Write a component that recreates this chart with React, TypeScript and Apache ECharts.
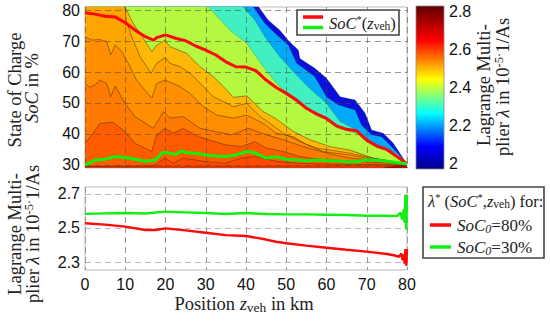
import React, { useEffect, useRef } from "react";
import * as echarts from "echarts";

type P = [number, number][];

const contourDarkBlue: P = [[0, 90], [42.8, 90], [43.1, 81.1], [45.5, 76.8], [48.4, 73.5], [50.8, 69.8], [53, 67.1], [53.4, 64.4], [57.1, 61.2], [60, 58], [63.4, 52], [67.1, 51], [69.6, 46.7], [71.2, 41.3], [74.1, 40.2], [76.6, 37], [78.5, 33.2], [80, 30.3]];
const contourBlue: P = [[0, 90], [41.5, 90], [41.8, 81.1], [44.7, 75.7], [47.2, 72.5], [50.5, 68.7], [52.6, 62.8], [57.1, 58.5], [60, 52], [62.9, 49.4], [67.1, 47.7], [68.7, 42.9], [71.2, 39.7], [73.7, 39.1], [76.2, 35.9], [78.5, 32.7], [80, 30.3]];
const contourTeal: P = [[0, 90], [39, 90], [39.3, 81.1], [42.2, 76.8], [44.7, 71.4], [48.4, 64.9], [51.8, 60.1], [55.5, 55.1], [60, 49.9], [63.4, 44], [66.7, 41.8], [69.6, 38.1], [73.3, 36.1], [77.4, 33.8], [80, 30.3]];
const contourLime: P = [[0, 90], [30.3, 90], [30.6, 81.1], [36, 73.5], [40.2, 69.2], [44.3, 61.7], [47.2, 56.9], [49.7, 53.7], [52.2, 50.6], [55.1, 48], [57.6, 45.9], [60, 44.5], [62.5, 42], [65, 41], [67.5, 40.2], [70, 37.5], [72.5, 35.6], [75, 34.6], [77.5, 32.3], [80, 30.3]];
const contourYellow: P = [[0, 90], [9.7, 90], [9.9, 81.1], [12, 75.7], [15.3, 69.2], [16.6, 66.6], [17.8, 68.7], [19.9, 70.3], [21.1, 68.2], [25.3, 66], [28.6, 61.7], [31.9, 58.5], [35.2, 54.2], [36.9, 51.8], [40.2, 52.3], [44.3, 47.2], [47.2, 45.1], [51.8, 40.8], [55.9, 38.1], [60.9, 35.9], [65.8, 34.8], [71.6, 32.2], [80, 30.3]];
const contourAmber: P = [[0, 90], [9.5, 90], [10.2, 76.8], [11.6, 71.4], [13.7, 64.9], [16.4, 59.6], [17.8, 62.8], [19.9, 64.7], [21.1, 62.8], [23.6, 61.7], [26.1, 59.6], [29.4, 55.3], [31.9, 52], [35.2, 49.9], [36.9, 48.8], [40.2, 49.9], [43.5, 45.6], [46, 43.4], [49.3, 40.2], [53.4, 37.5], [57.6, 35.4], [65.8, 33.8], [71.6, 32.2], [80, 30.3]];
const contourOrange: P = [[0, 71.4], [1.7, 70.3], [3.6, 70.5], [5.4, 69.8], [6.4, 65.5], [7.5, 68.7], [9.1, 66.6], [10.8, 62.8], [12.8, 57.4], [16.6, 51.5], [17.8, 56.3], [19.9, 57.4], [23.6, 55.3], [26.1, 53.1], [29.4, 48.8], [32.7, 46.1], [36.9, 45.1], [40.2, 46.1], [44.3, 43.4], [47.6, 40.2], [51.8, 39.1], [55.1, 36.5], [59.2, 34.3], [65.8, 33.2], [72.5, 31.6], [80, 30.3]];
const contourDeepOrange: P = [[0, 56.3], [1.2, 55.1], [2.5, 55.8], [3.7, 57.4], [5.4, 56.3], [6.4, 52], [7.5, 55.5], [9.9, 49.9], [12.4, 45.6], [17, 41.8], [19.5, 47.2], [21.1, 45.1], [24.4, 45.6], [28.6, 41.8], [36.4, 39.7], [40.6, 41.8], [45.1, 39.7], [49.3, 38.1], [54.2, 35.9], [60, 33.8], [65.8, 32.2], [72.5, 31.4], [80, 30.3]];
const contourRedOrange: P = [[0, 37], [1.7, 39.7], [3.7, 43.4], [7, 43.8], [9.9, 40.8], [12.4, 37], [16.6, 34.3], [17.8, 39.7], [19.9, 41.8], [21.9, 40.2], [24.4, 41.8], [28.2, 39.1], [34.8, 36.5], [38.9, 35.9], [42.2, 37.5], [45.1, 35.4], [49.3, 34.3], [53.4, 32.7], [58.4, 31.8], [65.8, 31.3], [72.5, 30.8], [80, 30.3]];
const contourRed: P = [[0, 29.5], [16.6, 29.7], [17.4, 30], [19.9, 32.2], [21.9, 30.5], [24.4, 32.2], [29.8, 31.1], [34.8, 30.5], [38.9, 32.2], [42.2, 32.7], [47.6, 31.1], [53.4, 30.5], [61.7, 30.2], [80, 30]];
const contourBase: P = [[0, 29.5], [16, 29.5], [75, 29.6], [78, 29.8], [80, 30.2]];
const contourDark: P = [[74, 29], [77, 29.7], [80, 30.2]];

const contours: [P, string, boolean][] = [
  [contourDarkBlue, "#0a10d8", false],
  [contourBlue, "#00aaf8", false],
  [contourTeal, "#40f0c0", false],
  [contourLime, "#b4f840", false],
  [contourYellow, "#ffb808", true],
  [contourAmber, "#ffa500", true],
  [contourOrange, "#ff8e00", true],
  [contourDeepOrange, "#ff7a00", true],
  [contourRedOrange, "#ff5c00", true],
  [contourRed, "#ff4a00", true],
  [contourBase, "#e83800", false],
  [contourDark, "#a81000", false],
];

const soc80: P = [[0, 79.1], [2.5, 78.7], [5, 78], [7.5, 77.8], [10, 75.9], [12.5, 73.5], [15, 71.4], [17, 70.3], [18, 71.2], [20, 72], [22.5, 70.9], [25, 70.1], [27.5, 68.4], [30, 67.1], [32.5, 65.5], [35, 63.3], [37.5, 61.7], [40, 61.6], [42.5, 60.4], [45, 57.4], [47.5, 55], [50, 53.1], [52.5, 51], [55, 48.3], [57.5, 46.5], [60, 45], [62.5, 42.6], [65, 41.5], [67.5, 41], [70, 38], [72.5, 36.1], [75, 35], [77.5, 32.7], [80, 30.3]];
const soc30: P = [[0, 30], [1, 30.5], [2.5, 31.6], [5, 31.8], [7.5, 32.7], [10, 32.4], [12.5, 31.8], [15, 31.2], [17.5, 31.6], [19, 33.8], [20, 34], [22.5, 33.4], [24, 34.5], [25, 34], [27.5, 33.8], [30, 33.2], [32.5, 32.9], [35, 32.7], [37.5, 33.2], [40, 34.3], [42, 34], [45, 32.2], [47.5, 32.6], [50, 31.8], [52.5, 31.6], [55, 31.3], [57.5, 31.6], [60, 31.4], [62.5, 31.3], [65, 31], [67.5, 31], [70, 31.6], [72.5, 31.5], [75, 31.2], [77.5, 30.8], [80, 30.3]];
const lambda80: P = [[0, 2.528], [5, 2.52], [10, 2.508], [15, 2.488], [17.5, 2.488], [20, 2.498], [25, 2.486], [30, 2.472], [35, 2.458], [40, 2.453], [45, 2.432], [47.5, 2.419], [50, 2.41], [55, 2.396], [60, 2.384], [65, 2.372], [70, 2.361], [75, 2.347], [77, 2.338], [78, 2.331], [78.6, 2.35], [78.9, 2.31], [79.2, 2.345], [79.4, 2.29], [79.6, 2.376], [79.8, 2.278], [80, 2.376]];
const lambda30: P = [[0, 2.583], [5, 2.586], [10, 2.588], [15, 2.585], [20, 2.596], [25, 2.592], [30, 2.588], [35, 2.582], [40, 2.588], [45, 2.582], [50, 2.58], [55, 2.58], [60, 2.578], [65, 2.576], [70, 2.572], [75, 2.572], [77.5, 2.57], [78.4, 2.59], [78.8, 2.55], [79.2, 2.61], [79.4, 2.53], [79.6, 2.694], [79.8, 2.492], [80, 2.694]];

const socTicks = [30, 40, 50, 60, 70, 80];
const lambdaTicks = [2.3, 2.5, 2.7];
const barTicks = [2, 2.2, 2.4, 2.6, 2.8];

const SERIF = "'Liberation Serif', serif";
const SANS = "'Liberation Sans', Arial, sans-serif";
const RED = "#ff0808";
const GREEN = "#10f010";

const rich = (size: number) => ({
  n: { fontFamily: SERIF, fontSize: size, fill: "#222" },
  i: { fontFamily: SERIF, fontSize: size, fontStyle: "italic", fill: "#222" },
  sup: { fontFamily: SERIF, fontSize: size - 6, fill: "#222", verticalAlign: "top", lineHeight: size + 2 },
  sub: { fontFamily: SERIF, fontSize: size - 5, fill: "#222", verticalAlign: "bottom", lineHeight: size + 2 },
  subi: { fontFamily: SERIF, fontSize: size - 5, fontStyle: "italic", fill: "#222", verticalAlign: "bottom", lineHeight: size + 2 },
});

const label = (text: string, x: number, y: number, rotated = false, size = 18.5, align = "center") => ({
  type: "text",
  x,
  y,
  rotation: rotated ? Math.PI / 2 : 0,
  z: 120,
  style: { text, rich: rich(size), align, verticalAlign: "middle", fontFamily: SERIF, fontSize: size, fill: "#222" },
});

const box = (x: number, y: number, width: number, height: number) => ({
  type: "rect",
  shape: { x, y, width, height },
  z: 100,
  style: { fill: "#fff", stroke: "#444", lineWidth: 1.6 },
});

const stroke = (x1: number, x2: number, y: number, color: string) => ({
  type: "line",
  shape: { x1, y1: y, x2, y2: y },
  z: 110,
  style: { stroke: color, lineWidth: 3.5 },
});

const gridDash = { type: [6, 4], color: "rgba(80,70,60,0.55)", width: 1 };

export default function App() {
  const ref = useRef<HTMLDivElement>(null);
  useEffect(() => {
    const chart = echarts.init(ref.current!, undefined, { renderer: "svg" });
    const tickLabel = { color: "#111", fontFamily: SANS, fontSize: 16, margin: 5 };
    chart.setOption({
      animation: false,
      backgroundColor: "#fff",
      grid: [
        { left: 85, top: 7, width: 322, height: 161, show: true, borderColor: "#bbb", borderWidth: 1 },
        { left: 85, top: 187, width: 322, height: 83, show: true, borderColor: "#bbb", borderWidth: 1 },
        { left: 416, top: 6, width: 28, height: 163 },
      ],
      xAxis: [
        { gridIndex: 0, type: "value", min: 0, max: 80, interval: 10, z: 3, axisLine: { show: false }, axisTick: { show: false }, axisLabel: { show: false }, splitLine: { show: true, lineStyle: gridDash } },
        { gridIndex: 1, type: "value", min: 0, max: 80, interval: 10, z: 3, axisLine: { show: false }, axisTick: { show: false }, axisLabel: { ...tickLabel, margin: 6 }, splitLine: { show: true, lineStyle: { type: [6, 4], color: "#999", width: 1 } } },
        { gridIndex: 2, type: "value", min: 0, max: 1, show: false },
      ],
      yAxis: [
        { gridIndex: 0, type: "value", min: 29, max: 81, z: 3, axisLine: { show: false }, axisTick: { show: false, customValues: socTicks }, axisLabel: { ...tickLabel, customValues: socTicks }, splitLine: { show: true, lineStyle: gridDash } },
        { gridIndex: 1, type: "value", min: 2.253, max: 2.741, z: 3, axisLine: { show: false }, axisTick: { show: false, customValues: lambdaTicks }, axisLabel: { ...tickLabel, customValues: lambdaTicks, formatter: (v: number) => v.toFixed(1) }, splitLine: { show: true, lineStyle: { type: [6, 4], color: "#bbb", width: 1 } } },
        { gridIndex: 2, type: "value", min: 1.97, max: 2.83, position: "right", axisLine: { show: false }, axisTick: { show: false, customValues: barTicks }, axisLabel: { ...tickLabel, customValues: barTicks, margin: 5, formatter: (v: number) => (v === 2 ? "2" : v.toFixed(1)) }, splitLine: { show: false } },
      ],
      series: [
        ...contours.map(([data, color, outlined]) => ({
          type: "line",
          xAxisIndex: 0,
          yAxisIndex: 0,
          data,
          symbol: "none",
          silent: true,
          z: 2,
          lineStyle: outlined ? { color: "rgba(70,40,0,0.7)", width: 0.7 } : { color: "rgba(20,40,40,0.35)", width: 0.6 },
          areaStyle: { color, opacity: 1, origin: "start" },
        })),
        { type: "line", xAxisIndex: 0, yAxisIndex: 0, data: soc80, symbol: "none", z: 5, lineStyle: { color: RED, width: 3 } },
        { type: "line", xAxisIndex: 0, yAxisIndex: 0, data: soc30, symbol: "none", z: 5, lineStyle: { color: GREEN, width: 3 } },
        { type: "line", xAxisIndex: 1, yAxisIndex: 1, data: lambda80, symbol: "none", z: 5, lineStyle: { color: RED, width: 2.4 } },
        { type: "line", xAxisIndex: 1, yAxisIndex: 1, data: lambda30, symbol: "none", z: 5, lineStyle: { color: GREEN, width: 2.4 } },
      ],
      graphic: [
        {
          type: "rect",
          shape: { x: 416, y: 6, width: 28, height: 163 },
          z: 50,
          style: {
            stroke: "#8a8a8a",
            lineWidth: 0.8,
            fill: new echarts.graphic.LinearGradient(0, 1, 0, 0, [
              { offset: 0, color: "#00008a" },
              { offset: 0.14, color: "#0000ff" },
              { offset: 0.34, color: "#00ffff" },
              { offset: 0.55, color: "#ffff00" },
              { offset: 0.79, color: "#ff0000" },
              { offset: 1, color: "#600000" },
            ]),
          },
        },
        box(297, 10, 102, 25),
        stroke(303, 323, 17, RED),
        stroke(303, 323, 27.5, GREEN),
        label("{i|SoC}{sup|*}{n|(}{i|z}{sub|veh}{n|)}", 329, 23, false, 16.5, "left"),
        box(423, 187, 121, 71),
        label("{i|λ}{sup|*} {n|(}{i|SoC}{sup|*}{n|,}{i|z}{sub|veh}{n|) for:}", 428, 201, false, 16.5, "left"),
        stroke(430, 451, 225, RED),
        stroke(430, 451, 247, GREEN),
        label("{i|SoC}{subi|0}{n|=80%}", 457, 225, false, 17, "left"),
        label("{i|SoC}{subi|0}{n|=30%}", 457, 247, false, 17, "left"),
        label("{n|State of Charge}", 15, 90, true),
        label("{i|SoC}{n| in %}", 32, 88, true),
        label("{n|Lagrange Multi-}", 15, 234, true),
        label("{n|plier }{i|λ}{n| in 10}{sup|-5·}{n|1/As}", 33, 234, true),
        label("{n|Lagrange Multi-}", 484, 85, true),
        label("{n|plier }{i|λ}{n| in 10}{sup|-5·}{n|1/As}", 503, 87, true),
        label("{n|Position }{i|z}{sub|veh}{n| in km}", 244, 304),
      ],
    });
    return () => chart.dispose();
  }, []);
  return <div ref={ref} style={{ width: 550, height: 321, position: "absolute", left: 0, top: 0 }} />;
}
